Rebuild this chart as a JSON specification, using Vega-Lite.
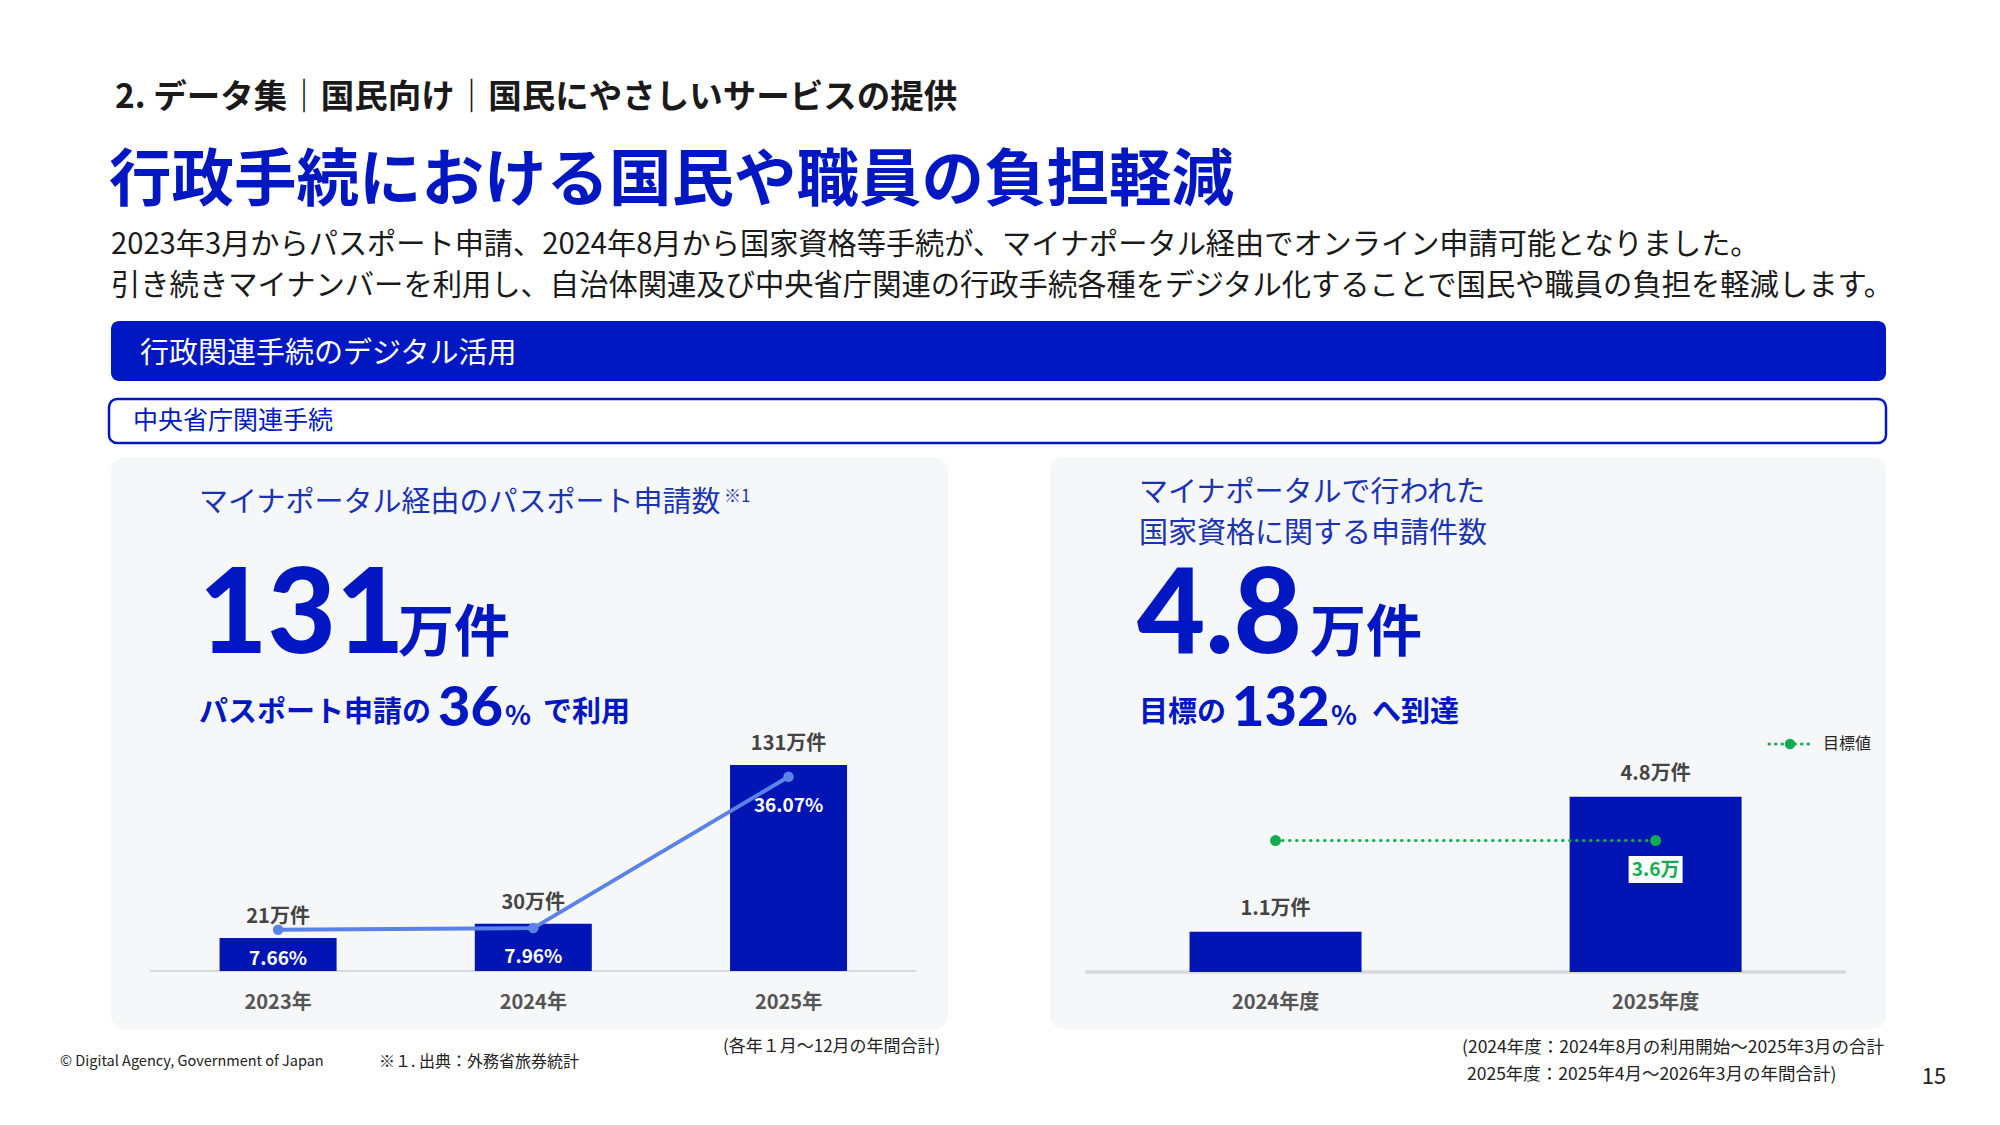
{
  "$schema": "https://vega.github.io/schema/vega-lite/v6.json",
  "width": 2000,
  "height": 1125,
  "autosize": {"type": "fit", "contains": "padding"},
  "padding": 0,
  "background": "#ffffff",
  "config": {"view": {"stroke": null}, "text": {"font": "Noto Sans CJK JP"}},
  "datasets": {
    "passport": [
      {"year": 2023, "label": "2023年", "count": 21, "pct": 7.66, "countLabel": "21万件", "pctLabel": "7.66%"},
      {"year": 2024, "label": "2024年", "count": 30, "pct": 7.96, "countLabel": "30万件", "pctLabel": "7.96%"},
      {"year": 2025, "label": "2025年", "count": 131, "pct": 36.07, "countLabel": "131万件", "pctLabel": "36.07%"}
    ],
    "license": [
      {"fy": 2024, "label": "2024年度", "count": 1.1, "target": 3.6, "countLabel": "1.1万件", "targetLabel": "3.6万"},
      {"fy": 2025, "label": "2025年度", "count": 4.8, "target": 3.6, "countLabel": "4.8万件", "targetLabel": "3.6万"}
    ],
    "one": [{"k": 1}]
  },
  "layer": [
    {
      "data": {"name": "one"},
      "layer": [
        {"mark": {"type": "rect", "color": "#0017C1", "cornerRadius": 8},
         "encoding": {"x": {"datum": 111, "type": "quantitative", "scale": {"domain": [0, 2000], "nice": false, "zero": false}, "axis": null}, "x2": {"datum": 1886},
                      "y": {"datum": 321, "type": "quantitative", "scale": {"domain": [0, 1125], "nice": false, "zero": false, "reverse": true}, "axis": null}, "y2": {"datum": 381}}},
        {"mark": {"type": "rect", "fill": "#ffffff", "stroke": "#0017C1", "strokeWidth": 2.5, "cornerRadius": 8},
         "encoding": {"x": {"datum": 109, "type": "quantitative", "scale": {"domain": [0, 2000], "nice": false, "zero": false}, "axis": null}, "x2": {"datum": 1886},
                      "y": {"datum": 399, "type": "quantitative", "scale": {"domain": [0, 1125], "nice": false, "zero": false, "reverse": true}, "axis": null}, "y2": {"datum": 443}}},
        {"mark": {"type": "rect", "color": "#f6f7f9", "cornerRadius": 14},
         "encoding": {"x": {"datum": 111, "type": "quantitative", "scale": {"domain": [0, 2000], "nice": false, "zero": false}, "axis": null}, "x2": {"datum": 948},
                      "y": {"datum": 457, "type": "quantitative", "scale": {"domain": [0, 1125], "nice": false, "zero": false, "reverse": true}, "axis": null}, "y2": {"datum": 1029}}},
        {"mark": {"type": "rect", "color": "#f6f7f9", "cornerRadius": 14},
         "encoding": {"x": {"datum": 1050, "type": "quantitative", "scale": {"domain": [0, 2000], "nice": false, "zero": false}, "axis": null}, "x2": {"datum": 1886},
                      "y": {"datum": 457, "type": "quantitative", "scale": {"domain": [0, 1125], "nice": false, "zero": false, "reverse": true}, "axis": null}, "y2": {"datum": 1029}}},
        {"mark": {"type": "text", "text": "2. データ集｜国民向け｜国民にやさしいサービスの提供", "fontSize": 33.5, "fontWeight": "bold", "align": "left", "baseline": "middle", "color": "#1a1a1a"},
         "encoding": {"x": {"datum": 115, "type": "quantitative", "scale": {"domain": [0, 2000], "nice": false, "zero": false}, "axis": null},
                      "y": {"datum": 98, "type": "quantitative", "scale": {"domain": [0, 1125], "nice": false, "zero": false, "reverse": true}, "axis": null}}},
        {"mark": {"type": "text", "text": "行政手続における国民や職員の負担軽減", "fontSize": 62.5, "fontWeight": "bold", "align": "left", "baseline": "middle", "color": "#0017C1"},
         "encoding": {"x": {"datum": 109, "type": "quantitative", "scale": {"domain": [0, 2000], "nice": false, "zero": false}, "axis": null},
                      "y": {"datum": 182, "type": "quantitative", "scale": {"domain": [0, 1125], "nice": false, "zero": false, "reverse": true}, "axis": null}}},
        {"mark": {"type": "text", "text": "2023年3月からパスポート申請、2024年8月から国家資格等手続が、マイナポータル経由でオンライン申請可能となりました。", "fontSize": 29.2, "align": "left", "baseline": "middle", "color": "#1a1a1a"},
         "encoding": {"x": {"datum": 111, "type": "quantitative", "scale": {"domain": [0, 2000], "nice": false, "zero": false}, "axis": null},
                      "y": {"datum": 245, "type": "quantitative", "scale": {"domain": [0, 1125], "nice": false, "zero": false, "reverse": true}, "axis": null}}},
        {"mark": {"type": "text", "text": "引き続きマイナンバーを利用し、自治体関連及び中央省庁関連の行政手続各種をデジタル化することで国民や職員の負担を軽減します。", "fontSize": 29.3, "align": "left", "baseline": "middle", "color": "#1a1a1a"},
         "encoding": {"x": {"datum": 111, "type": "quantitative", "scale": {"domain": [0, 2000], "nice": false, "zero": false}, "axis": null},
                      "y": {"datum": 286, "type": "quantitative", "scale": {"domain": [0, 1125], "nice": false, "zero": false, "reverse": true}, "axis": null}}},
        {"mark": {"type": "text", "text": "行政関連手続のデジタル活用", "fontSize": 29, "align": "left", "baseline": "middle", "color": "#ffffff"},
         "encoding": {"x": {"datum": 140, "type": "quantitative", "scale": {"domain": [0, 2000], "nice": false, "zero": false}, "axis": null},
                      "y": {"datum": 354, "type": "quantitative", "scale": {"domain": [0, 1125], "nice": false, "zero": false, "reverse": true}, "axis": null}}},
        {"mark": {"type": "text", "text": "中央省庁関連手続", "fontSize": 25, "align": "left", "baseline": "middle", "color": "#0017C1"},
         "encoding": {"x": {"datum": 133, "type": "quantitative", "scale": {"domain": [0, 2000], "nice": false, "zero": false}, "axis": null},
                      "y": {"datum": 421, "type": "quantitative", "scale": {"domain": [0, 1125], "nice": false, "zero": false, "reverse": true}, "axis": null}}},
        {"mark": {"type": "text", "text": "マイナポータル経由のパスポート申請数", "fontSize": 29, "align": "left", "baseline": "middle", "color": "#1a33b3"},
         "encoding": {"x": {"datum": 199, "type": "quantitative", "scale": {"domain": [0, 2000], "nice": false, "zero": false}, "axis": null},
                      "y": {"datum": 503, "type": "quantitative", "scale": {"domain": [0, 1125], "nice": false, "zero": false, "reverse": true}, "axis": null}}},
        {"mark": {"type": "text", "text": "※1", "fontSize": 17, "align": "left", "baseline": "middle", "color": "#1a33b3"},
         "encoding": {"x": {"datum": 724, "type": "quantitative", "scale": {"domain": [0, 2000], "nice": false, "zero": false}, "axis": null},
                      "y": {"datum": 497, "type": "quantitative", "scale": {"domain": [0, 1125], "nice": false, "zero": false, "reverse": true}, "axis": null}}},
        {"mark": {"type": "text", "text": "131", "font": "Lato", "fontSize": 118, "fontWeight": 900, "align": "left", "baseline": "alphabetic", "color": "#0017C1"},
         "encoding": {"x": {"datum": 199, "type": "quantitative", "scale": {"domain": [0, 2000], "nice": false, "zero": false}, "axis": null},
                      "y": {"datum": 653, "type": "quantitative", "scale": {"domain": [0, 1125], "nice": false, "zero": false, "reverse": true}, "axis": null}}},
        {"mark": {"type": "text", "text": "万件", "fontSize": 56, "fontWeight": "bold", "align": "left", "baseline": "alphabetic", "color": "#0017C1"},
         "encoding": {"x": {"datum": 398, "type": "quantitative", "scale": {"domain": [0, 2000], "nice": false, "zero": false}, "axis": null},
                      "y": {"datum": 651, "type": "quantitative", "scale": {"domain": [0, 1125], "nice": false, "zero": false, "reverse": true}, "axis": null}}},
        {"mark": {"type": "text", "text": "パスポート申請の", "fontSize": 29, "fontWeight": "bold", "align": "left", "baseline": "alphabetic", "color": "#0017C1"},
         "encoding": {"x": {"datum": 199, "type": "quantitative", "scale": {"domain": [0, 2000], "nice": false, "zero": false}, "axis": null},
                      "y": {"datum": 722, "type": "quantitative", "scale": {"domain": [0, 1125], "nice": false, "zero": false, "reverse": true}, "axis": null}}},
        {"mark": {"type": "text", "text": "36", "font": "Lato", "fontSize": 56, "fontWeight": 900, "align": "left", "baseline": "alphabetic", "color": "#0017C1"},
         "encoding": {"x": {"datum": 438, "type": "quantitative", "scale": {"domain": [0, 2000], "nice": false, "zero": false}, "axis": null},
                      "y": {"datum": 726, "type": "quantitative", "scale": {"domain": [0, 1125], "nice": false, "zero": false, "reverse": true}, "axis": null}}},
        {"mark": {"type": "text", "text": "%", "fontSize": 27, "fontWeight": "bold", "align": "left", "baseline": "alphabetic", "color": "#0017C1"},
         "encoding": {"x": {"datum": 505, "type": "quantitative", "scale": {"domain": [0, 2000], "nice": false, "zero": false}, "axis": null},
                      "y": {"datum": 725, "type": "quantitative", "scale": {"domain": [0, 1125], "nice": false, "zero": false, "reverse": true}, "axis": null}}},
        {"mark": {"type": "text", "text": "で利用", "fontSize": 29, "fontWeight": "bold", "align": "left", "baseline": "alphabetic", "color": "#0017C1"},
         "encoding": {"x": {"datum": 543, "type": "quantitative", "scale": {"domain": [0, 2000], "nice": false, "zero": false}, "axis": null},
                      "y": {"datum": 722, "type": "quantitative", "scale": {"domain": [0, 1125], "nice": false, "zero": false, "reverse": true}, "axis": null}}},
        {"mark": {"type": "text", "text": "マイナポータルで行われた", "fontSize": 29, "align": "left", "baseline": "middle", "color": "#1a33b3"},
         "encoding": {"x": {"datum": 1139, "type": "quantitative", "scale": {"domain": [0, 2000], "nice": false, "zero": false}, "axis": null},
                      "y": {"datum": 493, "type": "quantitative", "scale": {"domain": [0, 1125], "nice": false, "zero": false, "reverse": true}, "axis": null}}},
        {"mark": {"type": "text", "text": "国家資格に関する申請件数", "fontSize": 29, "align": "left", "baseline": "middle", "color": "#1a33b3"},
         "encoding": {"x": {"datum": 1139, "type": "quantitative", "scale": {"domain": [0, 2000], "nice": false, "zero": false}, "axis": null},
                      "y": {"datum": 534, "type": "quantitative", "scale": {"domain": [0, 1125], "nice": false, "zero": false, "reverse": true}, "axis": null}}},
        {"mark": {"type": "text", "text": "4.8", "font": "Lato", "fontSize": 118, "fontWeight": 900, "align": "left", "baseline": "alphabetic", "color": "#0017C1"},
         "encoding": {"x": {"datum": 1137, "type": "quantitative", "scale": {"domain": [0, 2000], "nice": false, "zero": false}, "axis": null},
                      "y": {"datum": 653, "type": "quantitative", "scale": {"domain": [0, 1125], "nice": false, "zero": false, "reverse": true}, "axis": null}}},
        {"mark": {"type": "text", "text": "万件", "fontSize": 56, "fontWeight": "bold", "align": "left", "baseline": "alphabetic", "color": "#0017C1"},
         "encoding": {"x": {"datum": 1310, "type": "quantitative", "scale": {"domain": [0, 2000], "nice": false, "zero": false}, "axis": null},
                      "y": {"datum": 651, "type": "quantitative", "scale": {"domain": [0, 1125], "nice": false, "zero": false, "reverse": true}, "axis": null}}},
        {"mark": {"type": "text", "text": "目標の", "fontSize": 29, "fontWeight": "bold", "align": "left", "baseline": "alphabetic", "color": "#0017C1"},
         "encoding": {"x": {"datum": 1139, "type": "quantitative", "scale": {"domain": [0, 2000], "nice": false, "zero": false}, "axis": null},
                      "y": {"datum": 722, "type": "quantitative", "scale": {"domain": [0, 1125], "nice": false, "zero": false, "reverse": true}, "axis": null}}},
        {"mark": {"type": "text", "text": "132", "font": "Lato", "fontSize": 56, "fontWeight": 900, "align": "left", "baseline": "alphabetic", "color": "#0017C1"},
         "encoding": {"x": {"datum": 1232, "type": "quantitative", "scale": {"domain": [0, 2000], "nice": false, "zero": false}, "axis": null},
                      "y": {"datum": 726, "type": "quantitative", "scale": {"domain": [0, 1125], "nice": false, "zero": false, "reverse": true}, "axis": null}}},
        {"mark": {"type": "text", "text": "%", "fontSize": 27, "fontWeight": "bold", "align": "left", "baseline": "alphabetic", "color": "#0017C1"},
         "encoding": {"x": {"datum": 1331, "type": "quantitative", "scale": {"domain": [0, 2000], "nice": false, "zero": false}, "axis": null},
                      "y": {"datum": 725, "type": "quantitative", "scale": {"domain": [0, 1125], "nice": false, "zero": false, "reverse": true}, "axis": null}}},
        {"mark": {"type": "text", "text": "へ到達", "fontSize": 29, "fontWeight": "bold", "align": "left", "baseline": "alphabetic", "color": "#0017C1"},
         "encoding": {"x": {"datum": 1372, "type": "quantitative", "scale": {"domain": [0, 2000], "nice": false, "zero": false}, "axis": null},
                      "y": {"datum": 722, "type": "quantitative", "scale": {"domain": [0, 1125], "nice": false, "zero": false, "reverse": true}, "axis": null}}},
        {"mark": {"type": "rule", "color": "#12ad50", "strokeWidth": 3, "strokeDash": [0.5, 6], "strokeCap": "round"},
         "encoding": {"x": {"datum": 1769, "type": "quantitative", "scale": {"domain": [0, 2000], "nice": false, "zero": false}, "axis": null}, "x2": {"datum": 1812},
                      "y": {"datum": 744, "type": "quantitative", "scale": {"domain": [0, 1125], "nice": false, "zero": false, "reverse": true}, "axis": null}}},
        {"mark": {"type": "circle", "color": "#12ad50", "size": 110, "opacity": 1},
         "encoding": {"x": {"datum": 1790, "type": "quantitative", "scale": {"domain": [0, 2000], "nice": false, "zero": false}, "axis": null},
                      "y": {"datum": 744, "type": "quantitative", "scale": {"domain": [0, 1125], "nice": false, "zero": false, "reverse": true}, "axis": null}}},
        {"mark": {"type": "text", "text": "目標値", "fontSize": 16, "align": "left", "baseline": "middle", "color": "#222222"},
         "encoding": {"x": {"datum": 1823, "type": "quantitative", "scale": {"domain": [0, 2000], "nice": false, "zero": false}, "axis": null},
                      "y": {"datum": 744, "type": "quantitative", "scale": {"domain": [0, 1125], "nice": false, "zero": false, "reverse": true}, "axis": null}}},
        {"mark": {"type": "text", "text": "© Digital Agency, Government of Japan", "fontSize": 14.5, "align": "left", "baseline": "middle", "color": "#222222"},
         "encoding": {"x": {"datum": 60, "type": "quantitative", "scale": {"domain": [0, 2000], "nice": false, "zero": false}, "axis": null},
                      "y": {"datum": 1062, "type": "quantitative", "scale": {"domain": [0, 1125], "nice": false, "zero": false, "reverse": true}, "axis": null}}},
        {"mark": {"type": "text", "text": "※１. 出典：外務省旅券統計", "fontSize": 16, "align": "left", "baseline": "middle", "color": "#222222"},
         "encoding": {"x": {"datum": 379, "type": "quantitative", "scale": {"domain": [0, 2000], "nice": false, "zero": false}, "axis": null},
                      "y": {"datum": 1062, "type": "quantitative", "scale": {"domain": [0, 1125], "nice": false, "zero": false, "reverse": true}, "axis": null}}},
        {"mark": {"type": "text", "text": "(各年１月～12月の年間合計)", "fontSize": 17, "align": "left", "baseline": "middle", "color": "#222222"},
         "encoding": {"x": {"datum": 723, "type": "quantitative", "scale": {"domain": [0, 2000], "nice": false, "zero": false}, "axis": null},
                      "y": {"datum": 1047, "type": "quantitative", "scale": {"domain": [0, 1125], "nice": false, "zero": false, "reverse": true}, "axis": null}}},
        {"mark": {"type": "text", "text": "(2024年度：2024年8月の利用開始～2025年3月の合計", "fontSize": 17.5, "align": "left", "baseline": "middle", "color": "#222222"},
         "encoding": {"x": {"datum": 1462, "type": "quantitative", "scale": {"domain": [0, 2000], "nice": false, "zero": false}, "axis": null},
                      "y": {"datum": 1048, "type": "quantitative", "scale": {"domain": [0, 1125], "nice": false, "zero": false, "reverse": true}, "axis": null}}},
        {"mark": {"type": "text", "text": "2025年度：2025年4月～2026年3月の年間合計)", "fontSize": 17.5, "align": "left", "baseline": "middle", "color": "#222222"},
         "encoding": {"x": {"datum": 1467, "type": "quantitative", "scale": {"domain": [0, 2000], "nice": false, "zero": false}, "axis": null},
                      "y": {"datum": 1075, "type": "quantitative", "scale": {"domain": [0, 1125], "nice": false, "zero": false, "reverse": true}, "axis": null}}},
        {"mark": {"type": "text", "text": "15", "fontSize": 22, "align": "center", "baseline": "middle", "color": "#222222"},
         "encoding": {"x": {"datum": 1934, "type": "quantitative", "scale": {"domain": [0, 2000], "nice": false, "zero": false}, "axis": null},
                      "y": {"datum": 1077, "type": "quantitative", "scale": {"domain": [0, 1125], "nice": false, "zero": false, "reverse": true}, "axis": null}}}
      ]
    },
    {
      "data": {"name": "passport"},
      "layer": [
        {
          "layer": [
            {"mark": {"type": "rule", "color": "#d8d9de", "strokeWidth": 2},
             "encoding": {"x": {"datum": 2022.5, "type": "quantitative", "scale": {"domain": [2021.930, 2029.727], "nice": false, "zero": false}, "axis": null}, "x2": {"datum": 2025.5},
                          "y": {"datum": 0, "type": "quantitative", "scale": {"domain": [-97.93, 617.5], "nice": false, "zero": false}, "axis": null}}},
            {"mark": {"type": "bar", "width": 117, "color": "#0015b3"},
             "encoding": {"x": {"field": "year", "type": "quantitative", "scale": {"domain": [2021.930, 2029.727], "nice": false, "zero": false}, "axis": null},
                          "y": {"field": "count", "type": "quantitative", "scale": {"domain": [-97.93, 617.5], "nice": false, "zero": false}, "axis": null}, "y2": {"datum": 0}}},
            {"mark": {"type": "text", "fontSize": 20, "fontWeight": "bold", "color": "#444444", "align": "center", "baseline": "middle", "dy": -21},
             "encoding": {"x": {"field": "year", "type": "quantitative", "scale": {"domain": [2021.930, 2029.727], "nice": false, "zero": false}, "axis": null},
                          "y": {"field": "count", "type": "quantitative", "scale": {"domain": [-97.93, 617.5], "nice": false, "zero": false}, "axis": null},
                          "text": {"field": "countLabel"}}},
            {"mark": {"type": "text", "fontSize": 20, "fontWeight": "bold", "color": "#555555", "align": "center", "baseline": "middle", "dy": 32},
             "encoding": {"x": {"field": "year", "type": "quantitative", "scale": {"domain": [2021.930, 2029.727], "nice": false, "zero": false}, "axis": null},
                          "y": {"datum": 0, "type": "quantitative", "scale": {"domain": [-97.93, 617.5], "nice": false, "zero": false}, "axis": null},
                          "text": {"field": "label"}}}
          ]
        },
        {
          "layer": [
            {"mark": {"type": "line", "color": "#5b82e8", "strokeWidth": 4},
             "encoding": {"x": {"field": "year", "type": "quantitative", "scale": {"domain": [2021.930, 2029.727], "nice": false, "zero": false}, "axis": null},
                          "y": {"field": "pct", "type": "quantitative", "scale": {"domain": [-28.6, 180.3], "nice": false, "zero": false}, "axis": null}}},
            {"mark": {"type": "circle", "color": "#5b82e8", "size": 110, "opacity": 1},
             "encoding": {"x": {"field": "year", "type": "quantitative", "scale": {"domain": [2021.930, 2029.727], "nice": false, "zero": false}, "axis": null},
                          "y": {"field": "pct", "type": "quantitative", "scale": {"domain": [-28.6, 180.3], "nice": false, "zero": false}, "axis": null}}},
            {"mark": {"type": "text", "fontSize": 19, "fontWeight": "bold", "color": "#ffffff", "align": "center", "baseline": "middle", "dy": 29},
             "encoding": {"x": {"field": "year", "type": "quantitative", "scale": {"domain": [2021.930, 2029.727], "nice": false, "zero": false}, "axis": null},
                          "y": {"field": "pct", "type": "quantitative", "scale": {"domain": [-28.6, 180.3], "nice": false, "zero": false}, "axis": null},
                          "text": {"field": "pctLabel"}}}
          ]
        }
      ],
      "resolve": {"scale": {"y": "independent"}}
    },
    {
      "data": {"name": "license"},
      "layer": [
        {"mark": {"type": "rule", "color": "#d8d9de", "strokeWidth": 3},
         "encoding": {"x": {"datum": 2023.5, "type": "quantitative", "scale": {"domain": [2020.657, 2025.893], "nice": false, "zero": false}, "axis": null}, "x2": {"datum": 2025.5},
                      "y": {"datum": 0, "type": "quantitative", "scale": {"domain": [-4.192, 26.63], "nice": false, "zero": false}, "axis": null}}},
        {"mark": {"type": "bar", "width": 172, "color": "#0015b3"},
         "encoding": {"x": {"field": "fy", "type": "quantitative", "scale": {"domain": [2020.657, 2025.893], "nice": false, "zero": false}, "axis": null},
                      "y": {"field": "count", "type": "quantitative", "scale": {"domain": [-4.192, 26.63], "nice": false, "zero": false}, "axis": null}, "y2": {"datum": 0}}},
        {"mark": {"type": "text", "fontSize": 20, "fontWeight": "bold", "color": "#444444", "align": "center", "baseline": "middle", "dy": -23},
         "encoding": {"x": {"field": "fy", "type": "quantitative", "scale": {"domain": [2020.657, 2025.893], "nice": false, "zero": false}, "axis": null},
                      "y": {"field": "count", "type": "quantitative", "scale": {"domain": [-4.192, 26.63], "nice": false, "zero": false}, "axis": null},
                      "text": {"field": "countLabel"}}},
        {"mark": {"type": "text", "fontSize": 20, "fontWeight": "bold", "color": "#555555", "align": "center", "baseline": "middle", "dy": 31},
         "encoding": {"x": {"field": "fy", "type": "quantitative", "scale": {"domain": [2020.657, 2025.893], "nice": false, "zero": false}, "axis": null},
                      "y": {"datum": 0, "type": "quantitative", "scale": {"domain": [-4.192, 26.63], "nice": false, "zero": false}, "axis": null},
                      "text": {"field": "label"}}},
        {"mark": {"type": "line", "color": "#12ad50", "strokeWidth": 3, "strokeDash": [0.5, 6.5], "strokeCap": "round"},
         "encoding": {"x": {"field": "fy", "type": "quantitative", "scale": {"domain": [2020.657, 2025.893], "nice": false, "zero": false}, "axis": null},
                      "y": {"field": "target", "type": "quantitative", "scale": {"domain": [-4.192, 26.63], "nice": false, "zero": false}, "axis": null}}},
        {"mark": {"type": "circle", "color": "#12ad50", "size": 120, "opacity": 1},
         "encoding": {"x": {"field": "fy", "type": "quantitative", "scale": {"domain": [2020.657, 2025.893], "nice": false, "zero": false}, "axis": null},
                      "y": {"field": "target", "type": "quantitative", "scale": {"domain": [-4.192, 26.63], "nice": false, "zero": false}, "axis": null}}},
        {"transform": [{"filter": "datum.fy == 2025"}],
         "mark": {"type": "point", "shape": "M-1,-0.5H1V0.5H-1Z", "size": 2916, "filled": true, "color": "#ffffff", "opacity": 1, "yOffset": 29},
         "encoding": {"x": {"field": "fy", "type": "quantitative", "scale": {"domain": [2020.657, 2025.893], "nice": false, "zero": false}, "axis": null},
                      "y": {"field": "target", "type": "quantitative", "scale": {"domain": [-4.192, 26.63], "nice": false, "zero": false}, "axis": null}}},
        {"transform": [{"filter": "datum.fy == 2025"}],
         "mark": {"type": "text", "fontSize": 19, "fontWeight": "bold", "color": "#12ad50", "align": "center", "baseline": "middle", "dy": 29},
         "encoding": {"x": {"field": "fy", "type": "quantitative", "scale": {"domain": [2020.657, 2025.893], "nice": false, "zero": false}, "axis": null},
                      "y": {"field": "target", "type": "quantitative", "scale": {"domain": [-4.192, 26.63], "nice": false, "zero": false}, "axis": null},
                      "text": {"field": "targetLabel"}}}
      ]
    }
  ],
  "resolve": {"scale": {"x": "independent", "y": "independent"}}
}
